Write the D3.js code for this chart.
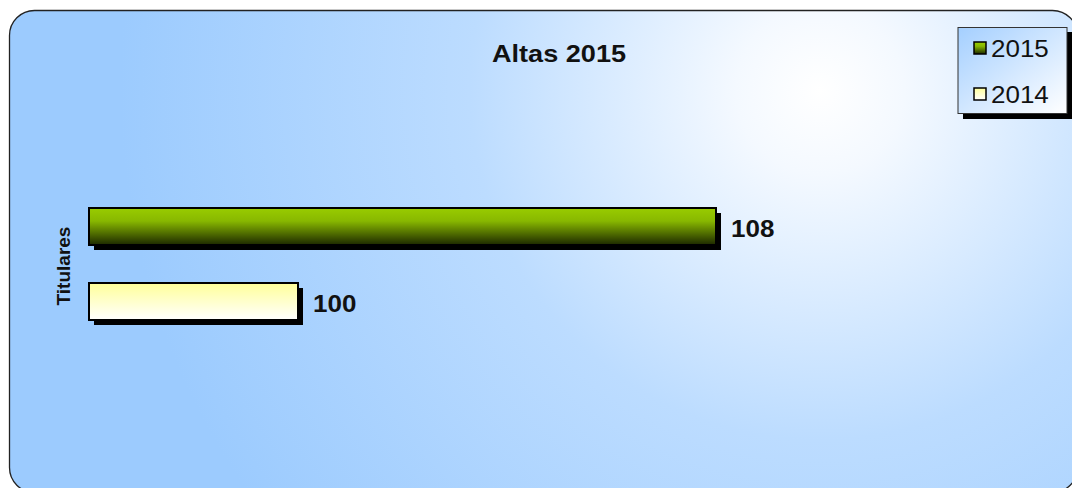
<!DOCTYPE html>
<html><head><meta charset="utf-8">
<script src="https://cdn.jsdelivr.net/npm/d3@7"></script>
<style>html,body{margin:0;padding:0;background:#fff;overflow:hidden}svg{display:block}</style>
</head><body>
<script>
const categories = ["Titulares"];
const seriesNames = ["2015", "2014"];
const values2015 = [108];
const values2014 = [100];
const title = "Altas 2015";

const W = 1072, H = 488;
const SX = 1.13; // horizontal text stretch seen in the reference
const svg = d3.select("body").append("svg").attr("width", W).attr("height", H)
  .style("font-family", "'Liberation Sans', Arial, sans-serif");
const defs = svg.append("defs");

const bg = defs.append("radialGradient").attr("id", "bg").attr("gradientUnits", "userSpaceOnUse")
  .attr("cx", 820).attr("cy", 90).attr("r", 700);
bg.append("stop").attr("offset", "0%").attr("stop-color", "#ffffff");
bg.append("stop").attr("offset", "12%").attr("stop-color", "#f4f9ff");
bg.append("stop").attr("offset", "50%").attr("stop-color", "#bcdcff");
bg.append("stop").attr("offset", "100%").attr("stop-color", "#9ccbfe");

const gG = defs.append("linearGradient").attr("id", "g2015").attr("x1", 0).attr("y1", 0).attr("x2", 0).attr("y2", 1);
gG.append("stop").attr("offset", "0%").attr("stop-color", "#99cc00");
gG.append("stop").attr("offset", "35%").attr("stop-color", "#88b800");
gG.append("stop").attr("offset", "100%").attr("stop-color", "#1c2800");
const gY = defs.append("linearGradient").attr("id", "g2014").attr("x1", 0).attr("y1", 0).attr("x2", 0).attr("y2", 1);
gY.append("stop").attr("offset", "0%").attr("stop-color", "#ffff99");
gY.append("stop").attr("offset", "100%").attr("stop-color", "#ffffff");
const gL = defs.append("linearGradient").attr("id", "gleg").attr("x1", 0).attr("y1", 0).attr("x2", 1).attr("y2", 1);
gL.append("stop").attr("offset", "0%").attr("stop-color", "#a4cfff");
gL.append("stop").attr("offset", "100%").attr("stop-color", "#ffffff");

// frame
svg.append("rect").attr("x", 9.5).attr("y", 10.5).attr("width", 1068).attr("height", 482)
  .attr("rx", 25).attr("ry", 25).attr("fill", "url(#bg)").attr("stroke", "#222").attr("stroke-width", 1.3);

function stext(g, x, y, size, weight, str, anchor) {
  return g.append("text").attr("transform", `translate(${x},${y}) scale(${SX},1)`)
    .attr("text-anchor", anchor || "start").attr("font-size", size).attr("font-weight", weight)
    .attr("fill", "#111").text(str);
}

// title
stext(svg, 559, 62, 24, "bold", title, "middle");

// scales
const x = d3.scaleLinear().domain([96, 108]).range([89, 716]);
const y0 = d3.scaleBand().domain(categories).range([190, 338]);
const y1 = d3.scaleBand().domain(seriesNames).range([18, 130]).paddingInner(0.5067);
const barH = y1.bandwidth();

const series = [
  {name: "2015", values: values2015, fill: "url(#g2015)"},
  {name: "2014", values: values2014, fill: "url(#g2014)"}
];

series.forEach(s => {
  categories.forEach((c, i) => {
    const v = s.values[i];
    const yy = y0(c) + y1(s.name);
    const x0 = x.range()[0], xw = x(v) - x0;
    svg.append("rect").attr("x", x0 + 5).attr("y", yy + 5).attr("width", xw).attr("height", barH).attr("fill", "#000");
    svg.append("rect").attr("x", x0).attr("y", yy).attr("width", xw).attr("height", barH)
      .attr("fill", s.fill).attr("stroke", "#000").attr("stroke-width", 2);
    stext(svg, x(v) + 15, yy + barH / 2 + 10.5, 23, "bold", v);
  });
});

// category label
categories.forEach(c => {
  svg.append("text").attr("transform", `translate(70,${y0(c) + y0.bandwidth() / 2 + 2}) rotate(-90)`)
    .attr("text-anchor", "middle").attr("font-size", 19).attr("font-weight", "bold").attr("fill", "#111").text(c);
});

// legend
const lg = svg.append("g");
lg.append("rect").attr("x", 963).attr("y", 32).attr("width", 110).attr("height", 87).attr("fill", "#000");
lg.append("rect").attr("x", 958).attr("y", 27.5).attr("width", 109).attr("height", 86)
  .attr("fill", "url(#gleg)").attr("stroke", "#333").attr("stroke-width", 1);
const legFill = {"2015": "url(#g2015)", "2014": "url(#g2014)"};
seriesNames.forEach((n, i) => {
  const yy = 42 + i * 46;
  lg.append("rect").attr("x", 974).attr("y", yy).attr("width", 12).attr("height", 12)
    .attr("fill", legFill[n]).attr("stroke", "#000").attr("stroke-width", 1.5);
  stext(lg, 991, yy + 15, 23, "normal", n);
});
</script>
</body></html>
